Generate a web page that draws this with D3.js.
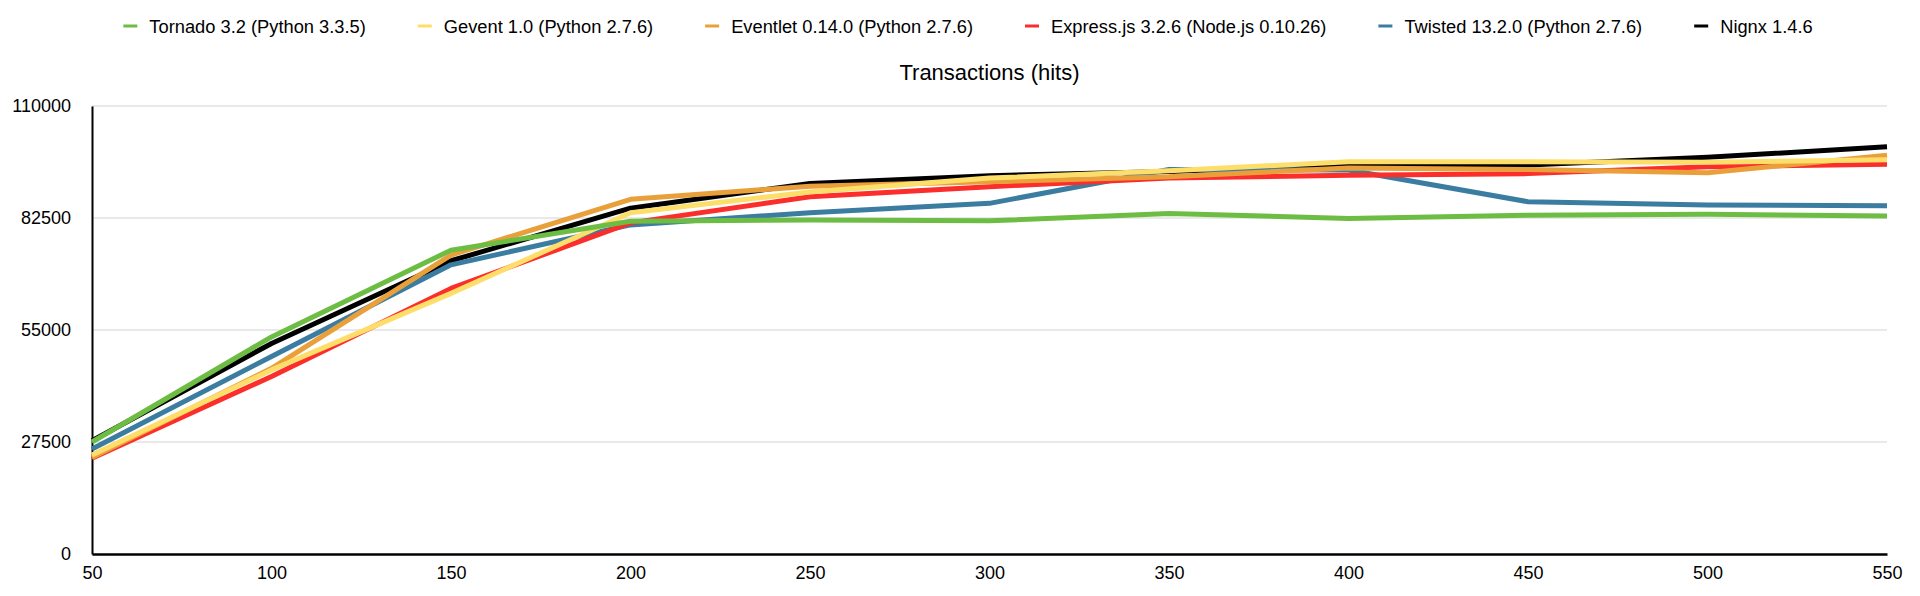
<!DOCTYPE html>
<html>
<head>
<meta charset="utf-8">
<script src="https://cdn.jsdelivr.net/npm/d3@7"></script>
<style>
  body { margin: 0; background: #fff; }
  svg { display: block; font-family: "Liberation Sans", Arial, sans-serif; }
</style>
</head>
<body>
<svg id="chart"></svg>
<script>
// Concurrent users (x axis)
const users = [50, 100, 150, 200, 250, 300, 350, 400, 450, 500, 550];

// Transactions per server
const tornado  = [27500, 53300, 74600, 81700, 82000, 81800, 83600, 82400, 83200, 83400, 83000];
const gevent   = [24300, 45200, 64000, 83800, 88900, 92300, 94100, 96300, 96300, 96200, 96800];
const eventlet = [23700, 45600, 73400, 87100, 90300, 91400, 92600, 94800, 94400, 93600, 97900];
const express  = [23500, 43600, 65200, 81300, 87700, 90200, 92300, 93000, 93400, 95100, 95700];
const twisted  = [25800, 48500, 71000, 80800, 83800, 86100, 94400, 94300, 86500, 85700, 85500];
const nginx    = [27800, 51700, 72000, 84900, 91000, 92900, 93900, 95500, 95500, 97400, 100000];

const seriesNames = [
  "Tornado 3.2 (Python 3.3.5)",
  "Gevent 1.0 (Python 2.7.6)",
  "Eventlet 0.14.0 (Python 2.7.6)",
  "Express.js 3.2.6 (Node.js 0.10.26)",
  "Twisted 13.2.0 (Python 2.7.6)",
  "Nignx 1.4.6"
];
const seriesColors = ["#6dbd45", "#fede6a", "#e9a03b", "#fb2e2b", "#3b7ca1", "#000000"];
const yTicks = [0, 27500, 55000, 82500, 110000];
const title = "Transactions (hits)";

const series = [tornado, gevent, eventlet, express, twisted, nginx].map((vals, i) => ({
  name: seriesNames[i],
  color: seriesColors[i],
  values: vals.map((v, j) => ({ x: users[j], y: v }))
}));

const W = 1920, H = 596;
const margin = { top: 106, right: 33, bottom: 42, left: 92 };
const width = W - margin.left - margin.right;
const height = H - margin.top - margin.bottom;

const svg = d3.select("#chart").attr("width", W).attr("height", H);

const x = d3.scaleLinear().domain([50, 550]).range([0, width]);
const y = d3.scaleLinear().domain([0, 110000]).range([height, 0]);

const g = svg.append("g").attr("transform", `translate(${margin.left},${margin.top})`);

// gridlines
g.append("g")
  .selectAll("line")
  .data(yTicks.filter(d => d > 0))
  .join("line")
  .attr("x1", 0).attr("x2", width)
  .attr("y1", d => y(d)).attr("y2", d => y(d))
  .attr("stroke", "#e2e2e2")
  .attr("stroke-width", 1.5);

// y axis
const yAxis = g.append("g")
  .call(d3.axisLeft(y).tickValues(yTicks).tickSize(0).tickPadding(21).tickFormat(d3.format("d")));
yAxis.select(".domain").attr("stroke", "#000").attr("stroke-width", 2);
yAxis.selectAll("text").attr("font-size", 18).attr("fill", "#000")
  .attr("font-family", "Liberation Sans, Arial, sans-serif");

// x axis
const xAxis = g.append("g")
  .attr("transform", `translate(0,${height})`)
  .call(d3.axisBottom(x).tickValues(users).tickSize(0).tickPadding(12));
xAxis.select(".domain").attr("stroke", "#000").attr("stroke-width", 2.5);
xAxis.selectAll("text").attr("font-size", 18).attr("fill", "#000")
  .attr("font-family", "Liberation Sans, Arial, sans-serif");

// lines, first series drawn last so it sits on top
const line = d3.line().x(d => x(d.x)).y(d => y(d.y));
g.append("g")
  .selectAll("path")
  .data(series.slice().reverse())
  .join("path")
  .attr("fill", "none")
  .attr("stroke", d => d.color)
  .attr("stroke-width", 5)
  .attr("stroke-linejoin", "round")
  .attr("d", d => line(d.values));

// title
svg.append("text")
  .attr("x", margin.left + width / 2)
  .attr("y", 80)
  .attr("text-anchor", "middle")
  .attr("font-size", 22)
  .attr("fill", "#000")
  .text(title);

// legend
const legend = svg.append("g");
const items = legend.selectAll("g").data(series).join("g");
items.append("line")
  .attr("x1", 0).attr("x2", 14)
  .attr("y1", 26).attr("y2", 26)
  .attr("stroke", d => d.color)
  .attr("stroke-width", 3);
items.append("text")
  .attr("x", 26)
  .attr("y", 33)
  .attr("font-size", 18.3)
  .attr("fill", "#000")
  .text(d => d.name);

const gap = 52;
let offset = 0;
items.each(function () {
  const w = this.querySelector("text").getComputedTextLength();
  d3.select(this).attr("transform", `translate(${offset},0)`);
  offset += 26 + w + gap;
});
const totalW = offset - gap;
legend.attr("transform", `translate(${968 - totalW / 2},0)`);
</script>
</body>
</html>
